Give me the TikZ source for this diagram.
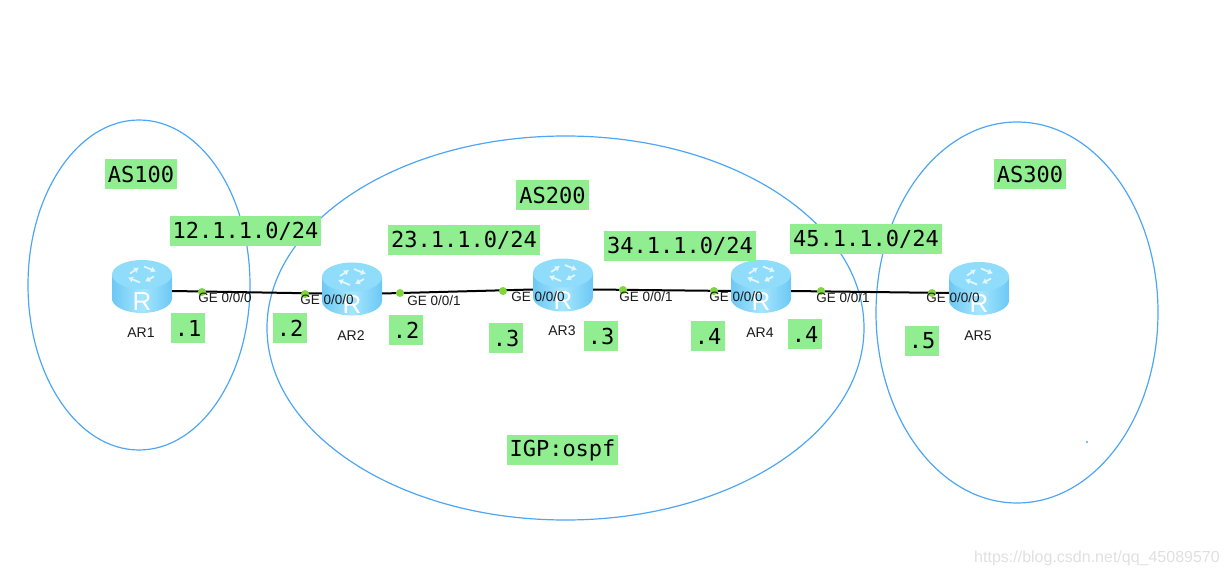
\documentclass[tikz,border=0pt]{standalone}
\usepackage{fontspec}
\setmainfont{Liberation Sans}
\newfontfamily\tagfont{DejaVu Sans Mono}
\usetikzlibrary{arrows.meta,positioning,calc,shapes.geometric}
\definecolor{areablue}{HTML}{4DA6F5}
\definecolor{taggreen}{HTML}{90EE90}
\definecolor{portgreen}{HTML}{7FD63A}
\definecolor{routerside}{HTML}{6CC8F4}
\definecolor{routerlight}{HTML}{A5E6FF}
\definecolor{routertop}{HTML}{8FDCFB}
\tikzset{
  area/.style={draw=areablue, ellipse, line width=1.2pt, inner sep=0pt},
  tag/.style={fill=taggreen, font=\tagfont\fontsize{22}{22}\selectfont, inner xsep=3pt, inner ysep=0pt, minimum height=30pt, minimum width=34pt},
  link/.style={draw=black, line width=2pt},
  portdot/.style={circle, fill=portgreen, minimum size=8pt, inner sep=0pt},
  portlabel/.style={font=\fontsize{13.5}{13.5}\selectfont, text=black!90, inner sep=0pt},
  routerlabel/.style={font=\fontsize{14}{14}\selectfont, text=black!90, inner sep=0pt},
  routerbox/.style={minimum width=60pt, minimum height=53pt, inner sep=0pt},
  spoke/.style={-{Latex[length=5pt,width=6.5pt]}, draw=white!75!routertop, fill=white!75!routertop, line width=1.8pt}
}
% router icon, its node centre sits at the height of the link
\newcommand{\routericon}[2]{
  \node[routerbox] (#1) at (#2) {};
  \begin{scope}[shift={(#1.center)}, yshift=4.5pt]
    \shade[left color=routerside, right color=routerside, middle color=routerlight]
      (-30,-12) -- (-30,12) .. controls (-30,20) and (-16.5,26.5) .. (0,26.5)
      .. controls (16.5,26.5) and (30,20) .. (30,12) -- (30,-12) -- cycle;
    \fill[routertop] (0,-12) ellipse [x radius=30, y radius=14.5];
    \draw[spoke] (-12,-13) -- (-3,-19);
    \draw[spoke] (2,-20) -- (14,-15);
    \draw[spoke] (12,-10) -- (3,-5);
    \draw[spoke] (-2,-4) -- (-14,-9);
    \node[font=\fontsize{26}{26}\selectfont, text=white, inner sep=0pt] at (0,15.5) {R};
  \end{scope}
}
\begin{document}
\begin{tikzpicture}[x=1pt, y=-1pt]
\useasboundingbox (0,0) rectangle (1228,577);
% areas
\node[area, minimum width=222pt, minimum height=330pt] (as100) at (139,285) {};
\node[area, minimum width=597pt, minimum height=384pt] (as200) at (565.5,328) {};
\node[area, minimum width=282pt, minimum height=381pt] (as300) at (1017,312.5) {};
\fill[areablue] (1087,442) circle (1.2pt);
% routers
\routericon{ar1}{142,291}
\routericon{ar2}{352,293.5}
\routericon{ar3}{563,289.5}
\routericon{ar4}{761,291}
\routericon{ar5}{979,293}
\node[routerlabel] (name1) at (141,333) {AR1};
\node[routerlabel] (name2) at (351,336) {AR2};
\node[routerlabel] (name3) at (562,331) {AR3};
\node[routerlabel] (name4) at (760,333) {AR4};
\node[routerlabel] (name5) at (978,336) {AR5};
% links
\draw[link] (ar1.east) -- (ar2.west);
\draw[link] (ar2.east) -- (ar3.west);
\draw[link] (ar3.east) -- (ar4.west);
\draw[link] (ar4.east) -- (ar5.west);
% ports
\foreach \i/\px/\py/\lx/\ly/\txt in {
  1/202/292/225/298/GE 0\slash 0\slash 0, 2/305/294/327/300/GE 0\slash 0\slash 0,
  3/400/293/434/301/GE 0\slash 0\slash 1, 4/503/291/538/297/GE 0\slash 0\slash 0,
  5/623/290/646/297/GE 0\slash 0\slash 1, 6/714/291/736/297/GE 0\slash 0\slash 0,
  7/821/291/843/298/GE 0\slash 0\slash 1, 8/932/293/953/298/GE 0\slash 0\slash 0}{
  \node[portdot] (port\i) at (\px,\py) {};
  \node[portlabel] (portname\i) at (\lx,\ly) {\txt};
}
% labels
\node[tag] (lblas100) at (141,174) {AS100};
\node[tag] (lblas200) at (552.5,195) {AS200};
\node[tag] (lblas300) at (1030,174) {AS300};
\node[tag] (net12) at (245.5,231) {12.1.1.0/24};
\node[tag] (net23) at (464,240) {23.1.1.0/24};
\node[tag] (net34) at (680,246) {34.1.1.0/24};
\node[tag] (net45) at (866,239) {45.1.1.0/24};
\node[tag] (ip1) at (188,328) {.1};
\node[tag] (ip2) at (290,328) {.2};
\node[tag] (ip3) at (406,330) {.2};
\node[tag] (ip4) at (506,338) {.3};
\node[tag] (ip5) at (601,336) {.3};
\node[tag] (ip6) at (708,336) {.4};
\node[tag] (ip7) at (805,334) {.4};
\node[tag] (ip8) at (922,341) {.5};
\node[tag] (igp) at (562.5,450) {IGP:ospf};
% watermark
\node[font=\fontsize{16}{16}\selectfont, text=black!12, inner sep=0pt] (mark) at (1097,558) {https://blog.csdn.net/qq\_45089570};
\end{tikzpicture}
\end{document}
